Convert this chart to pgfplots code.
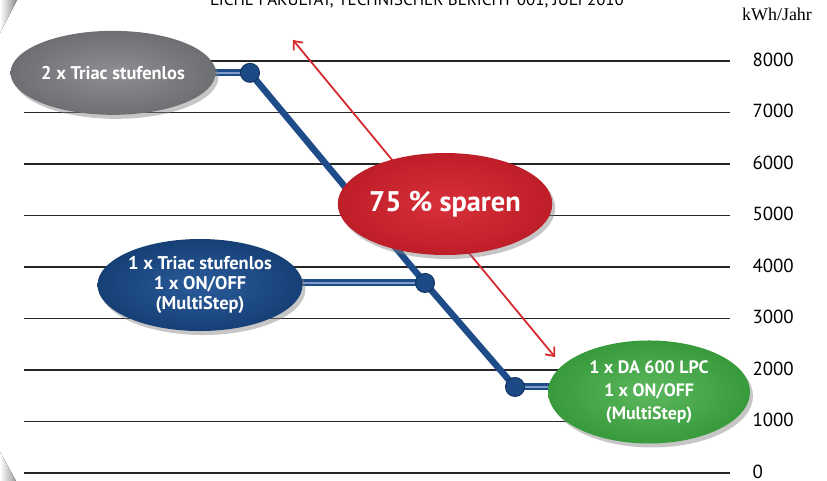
\documentclass[border=0pt]{standalone}
\usepackage{pgfplots}
\pgfplotsset{compat=1.18}
\usepackage{fontspec}
\setmainfont{PT Sans}
\newfontfamily\serifk{Liberation Serif}
\usetikzlibrary{shadows,arrows.meta,shapes.geometric}
\definecolor{lineblue}{HTML}{1E4C88}
\definecolor{lightblue}{HTML}{7F9DC6}
\definecolor{markblue}{HTML}{1B4A86}
\definecolor{arrowred}{HTML}{D42A30}
\definecolor{grayin}{HTML}{8E8F92}
\definecolor{grayout}{HTML}{6E6F72}
\definecolor{bluein}{HTML}{2A5C9A}
\definecolor{blueout}{HTML}{163F76}
\definecolor{redin}{HTML}{D8303A}
\definecolor{redout}{HTML}{BE1E28}
\definecolor{greenin}{HTML}{5DB85E}
\definecolor{greenout}{HTML}{379A3B}
\begin{document}
\begin{tikzpicture}
\begin{axis}[
  width=706bp, height=412bp, scale only axis,
  xmin=24, xmax=730, ymin=0, ymax=8000,
  clip=false,
  axis line style={draw=none},
  xtick=\empty,
  ytick={0,1000,...,8000},
  ymajorgrids,
  major grid style={line width=1.1bp, color=black!85},
  major tick length=0pt,
  yticklabel pos=right,
  yticklabel style={anchor=west, xshift=19bp, yshift=1.5bp},
  /pgf/number format/assume math mode=true,
  /pgf/number format/1000 sep={},
  tick label style={font=\fontsize{19}{19}\selectfont},
]
% page corners
\fill[left color=white, right color=black!45] (axis cs:0,9184.5) -- (axis cs:17,9184.5) -- (axis cs:0,8544) -- cycle;
\fill[left color=white, right color=black!40] (axis cs:0,408) -- (axis cs:16,-155.3) -- (axis cs:0,-155.3) -- cycle;
% cut-off header
\node[anchor=base west, font=\fontsize{17}{17}\selectfont, inner sep=0] at (axis cs:210,9087) {LICHE FAKULTÄT, TECHNISCHER BERICHT 001, JULI 2010};
\node[anchor=base west, font=\serifk\fontsize{18}{18}\selectfont, inner sep=0] at (axis cs:742,8796) {kWh/Jahr};
% red double arrow
\draw[arrowred, line width=1.8bp, {Straight Barb[length=7bp,width=12bp]}-{Straight Barb[length=7bp,width=12bp]}] (axis cs:293,8408) -- (axis cs:555,2252);
% connector stubs
\addplot[draw=lineblue, line width=7bp, postaction={draw=lightblue, line width=2bp}] coordinates {(210,7770) (250,7770)};
\addplot[draw=lineblue, line width=7bp, postaction={draw=lightblue, line width=2bp}] coordinates {(295,3690) (425,3690)};
\addplot[draw=lineblue, line width=7bp, postaction={draw=lightblue, line width=2bp}] coordinates {(515,1670) (555,1670)};
% main line with points
\addplot[draw=lineblue, line width=6.5bp, mark=*, mark size=9.5bp,
  mark options={fill=markblue, draw=markblue!70!black, line width=1bp}]
  coordinates {(250,7770) (425,3690) (515,1670)};
% ellipses
\node[ellipse, minimum width=205bp, minimum height=84bp, inner sep=0,
  inner color=grayin, outer color=grayout,
  drop shadow={shadow xshift=3bp, shadow yshift=-4bp, opacity=0.45},
  text=white, font=\bfseries\fontsize{18.5}{20}\selectfont] at (axis cs:113,7770) {2 x Triac stufenlos};
\node[ellipse, minimum width=205bp, minimum height=92bp, inner sep=0,
  inner color=bluein, outer color=blueout,
  drop shadow={shadow xshift=3bp, shadow yshift=-4bp, opacity=0.45},
  text=white, align=center, font=\bfseries\fontsize{18.5}{20.5}\selectfont] at (axis cs:200,3650) {1 x Triac stufenlos\\1 x ON/OFF\\(MultiStep)};
\node[ellipse, minimum width=205bp, minimum height=102bp, inner sep=0,
  inner color=redin, outer color=redout,
  drop shadow={shadow xshift=3bp, shadow yshift=-4bp, opacity=0.45},
  text=white, font=\bfseries\fontsize{28.5}{30}\selectfont] at (axis cs:445,5223) {75 \% sparen};
\node[ellipse, minimum width=202bp, minimum height=103bp, inner sep=0,
  inner color=greenin, outer color=greenout,
  drop shadow={shadow xshift=3bp, shadow yshift=-4bp, opacity=0.45},
  text=white, align=center, font=\bfseries\fontsize{18}{23.5}\selectfont] at (axis cs:649,1573) {1 x DA 600 LPC\\1 x ON/OFF\\(MultiStep)};
\coordinate (BL) at (axis cs:0,-155.3);
\coordinate (TR) at (axis cs:827,9184.5);
\end{axis}
\pgfresetboundingbox
\useasboundingbox (BL) rectangle (TR);
\end{tikzpicture}
\end{document}
